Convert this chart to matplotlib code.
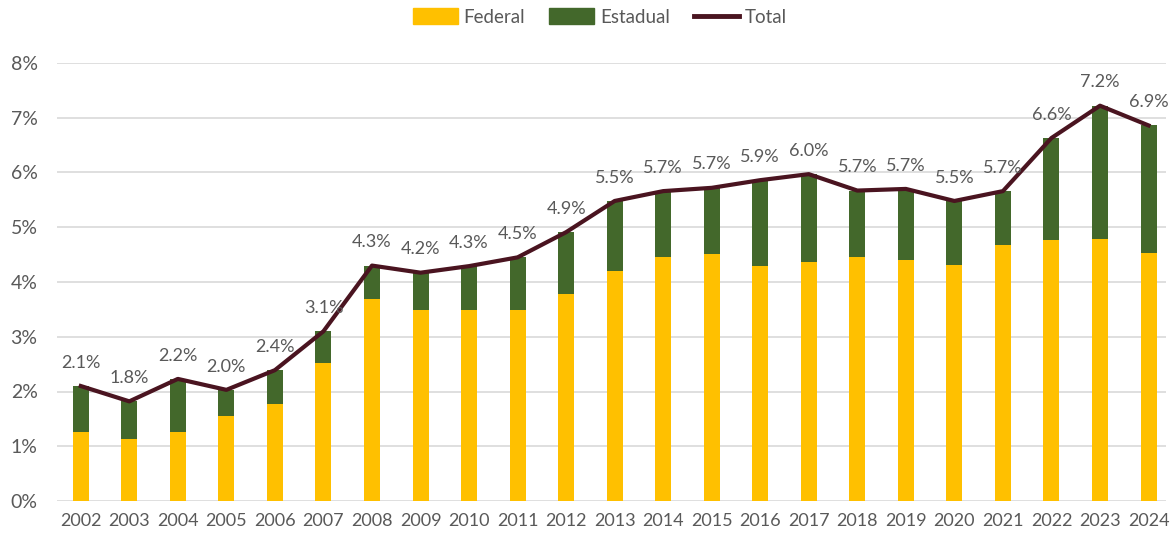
import matplotlib
matplotlib.use("Agg")
import matplotlib.pyplot as plt
from matplotlib.lines import Line2D
from matplotlib.patches import Patch
import numpy as np

years = ["2002", "2003", "2004", "2005", "2006", "2007", "2008", "2009", "2010", "2011", "2012",
         "2013", "2014", "2015", "2016", "2017", "2018", "2019", "2020", "2021", "2022", "2023", "2024"]
federal = [1.26, 1.13, 1.26, 1.55, 1.77, 2.52, 3.69, 3.49, 3.49, 3.49, 3.78,
           4.20, 4.46, 4.51, 4.29, 4.37, 4.46, 4.40, 4.31, 4.68, 4.77, 4.79, 4.53]
total = [2.10, 1.82, 2.23, 2.03, 2.39, 3.10, 4.30, 4.17, 4.29, 4.45, 4.91,
         5.48, 5.66, 5.72, 5.86, 5.97, 5.67, 5.70, 5.48, 5.66, 6.63, 7.22, 6.86]
total_labels = ["2.1%", "1.8%", "2.2%", "2.0%", "2.4%", "3.1%", "4.3%", "4.2%", "4.3%", "4.5%", "4.9%",
                "5.5%", "5.7%", "5.7%", "5.9%", "6.0%", "5.7%", "5.7%", "5.5%", "5.7%", "6.6%", "7.2%", "6.9%"]
estadual = [t - f for t, f in zip(total, federal)]

plt.rcParams['font.family'] = ['Lato', 'DejaVu Sans']
grey = "#595959"
c_fed = "#FFC000"
c_est = "#43682B"
c_tot = "#4A1420"

fig = plt.figure(figsize=(11.71, 5.41), dpi=100)
ax = fig.add_axes([57 / 1171, 40 / 541, (1166 - 57) / 1171, (501 - 63) / 541])

x = np.arange(len(years))
w = 0.33
ax.bar(x, federal, width=w, color=c_fed, zorder=2)
ax.bar(x, estadual, width=w, bottom=federal, color=c_est, zorder=2)
ax.plot(x, total, color=c_tot, lw=3.0, zorder=3, solid_joinstyle='round')

for xi, t, lab in zip(x, total, total_labels):
    ax.text(xi, t + 0.28, lab, ha='center', va='bottom', fontsize=13, color=grey)

ax.set_ylim(0, 8)
ax.set_xlim(-0.49, 22.36)
ax.set_yticks(range(0, 9))
ax.set_yticklabels([f"{i}%" for i in range(0, 9)])
ax.set_xticks(x)
ax.set_xticklabels(years)
ax.tick_params(axis='x', length=0, labelsize=13, colors=grey, pad=9)
ax.tick_params(axis='y', length=0, labelsize=14, colors=grey, pad=14)
ax.grid(axis='y', color='#D9D9D9', lw=1.2, zorder=0)
ax.set_axisbelow(True)
for s in ax.spines.values():
    s.set_visible(False)

handles = [Patch(color=c_fed, label="Federal"),
           Patch(color=c_est, label="Estadual"),
           Line2D([0], [0], color=c_tot, lw=3.5, label="Total")]
fig.legend(handles=handles, loc='center', bbox_to_anchor=(600 / 1171, 1 - 17 / 541), ncol=3,
           frameon=False, fontsize=13.5, labelcolor=grey, handlelength=2.4, handleheight=0.9,
           columnspacing=1.3, handletextpad=0.3)

fig.savefig("out.png", dpi=100)
